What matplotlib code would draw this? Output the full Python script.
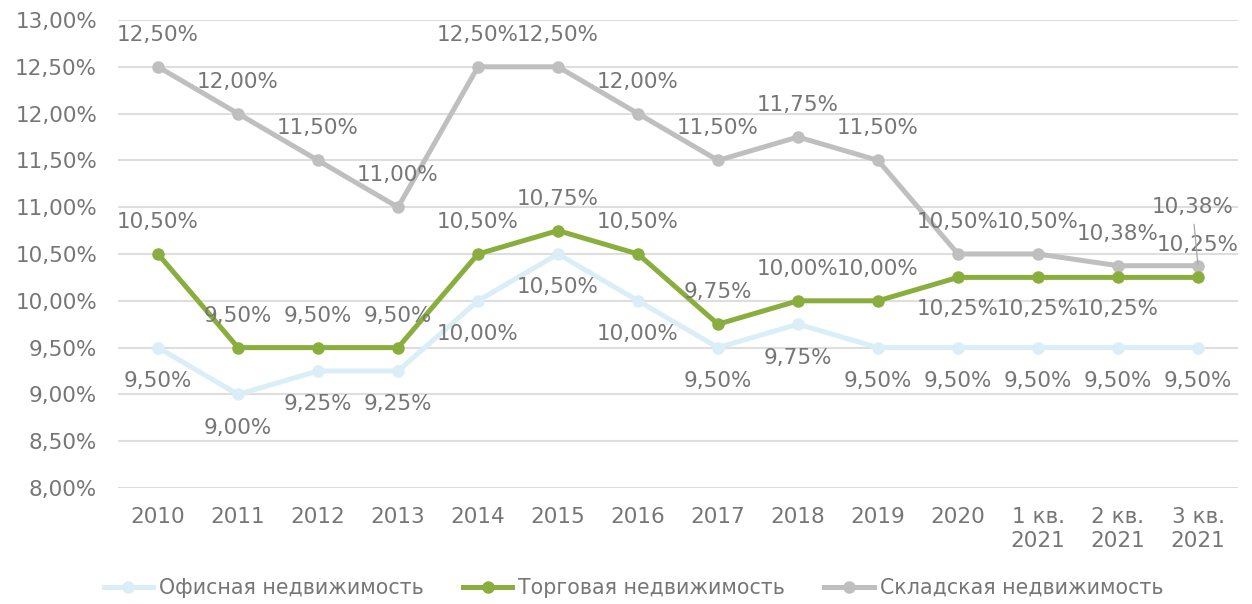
import matplotlib
matplotlib.use("Agg")
import matplotlib.pyplot as plt
from matplotlib.ticker import FuncFormatter, MultipleLocator

categories = ["2010", "2011", "2012", "2013", "2014", "2015", "2016", "2017",
              "2018", "2019", "2020", "1 кв.\n2021", "2 кв.\n2021", "3 кв.\n2021"]
office = [9.50, 9.00, 9.25, 9.25, 10.00, 10.50, 10.00, 9.50, 9.75, 9.50, 9.50, 9.50, 9.50, 9.50]
retail = [10.50, 9.50, 9.50, 9.50, 10.50, 10.75, 10.50, 9.75, 10.00, 10.00, 10.25, 10.25, 10.25, 10.25]
warehouse = [12.50, 12.00, 11.50, 11.00, 12.50, 12.50, 12.00, 11.50, 11.75, 11.50, 10.50, 10.50, 10.375, 10.375]
series_names = ["Офисная недвижимость", "Торговая недвижимость", "Складская недвижимость"]

# label position per point: 1 = above, -1 = below
retail_pos = [1, 1, 1, 1, 1, 1, 1, 1, 1, 1, -1, -1, -1, 1]

TXT = "#767676"
FS = 15.5
plt.rcParams['font.family'] = ['DejaVu Sans']

fig = plt.figure(figsize=(12.52, 6.04), dpi=100)
ax = fig.add_axes([118/1252, 1-488/604, 1120/1252, 468/604])

x = list(range(len(categories)))
c_off, c_ret, c_war = "#DAEEF8", "#8AAE3E", "#BFBFBF"

ax.plot(x, office, color=c_off, lw=3.6, marker='o', ms=8, label=series_names[0], zorder=3)
ax.plot(x, retail, color=c_ret, lw=3.6, marker='o', ms=8, label=series_names[1], zorder=4)
ax.plot(x, warehouse, color=c_war, lw=3.6, marker='o', ms=8, label=series_names[2], zorder=3)

def fmt(v):
    return ("%.2f%%" % v).replace('.', ',')

for i, v in enumerate(office):
    ax.annotate(fmt(v), (i, v), xytext=(0, -24), textcoords='offset points',
                ha='center', va='center', fontsize=FS, color=TXT, zorder=6)
for i, v in enumerate(retail):
    ax.annotate(fmt(v), (i, v), xytext=(0, 23 * retail_pos[i]), textcoords='offset points',
                ha='center', va='center', fontsize=FS, color=TXT, zorder=6)
for i, v in enumerate(warehouse):
    if i == len(warehouse) - 1:
        ax.annotate(fmt(v), (i, v), xytext=(-4, 42), textcoords='offset points',
                    ha='center', va='center', fontsize=FS, color=TXT, zorder=6,
                    arrowprops=dict(arrowstyle='-', color='#A6A6A6', lw=0.9,
                                    shrinkA=3, shrinkB=1))
    else:
        ax.annotate(fmt(v), (i, v), xytext=(0, 23), textcoords='offset points',
                    ha='center', va='center', fontsize=FS, color=TXT, zorder=6)

ax.set_xlim(-0.5, len(categories) - 0.5)
ax.set_ylim(8.0, 13.0)
ax.yaxis.set_major_locator(MultipleLocator(0.5))
ax.yaxis.set_major_formatter(FuncFormatter(lambda v, p: fmt(v)))
ax.set_xticks(x)
ax.set_xticklabels(categories, linespacing=1.25)
ax.tick_params(axis='both', length=0, labelsize=FS, labelcolor=TXT)
ax.tick_params(axis='x', pad=14)
ax.tick_params(axis='y', pad=15)
ax.grid(axis='y', color='#DEDEDE', lw=1.5)
ax.set_axisbelow(True)
for s in ax.spines.values():
    s.set_visible(False)

fig.legend(loc='center', bbox_to_anchor=(0.506, 1-588/604), ncol=3, frameon=False,
           fontsize=14.8, labelcolor=TXT, handlelength=2.4, handletextpad=0.3,
           columnspacing=1.9)

fig.savefig("out.png", dpi=100)
